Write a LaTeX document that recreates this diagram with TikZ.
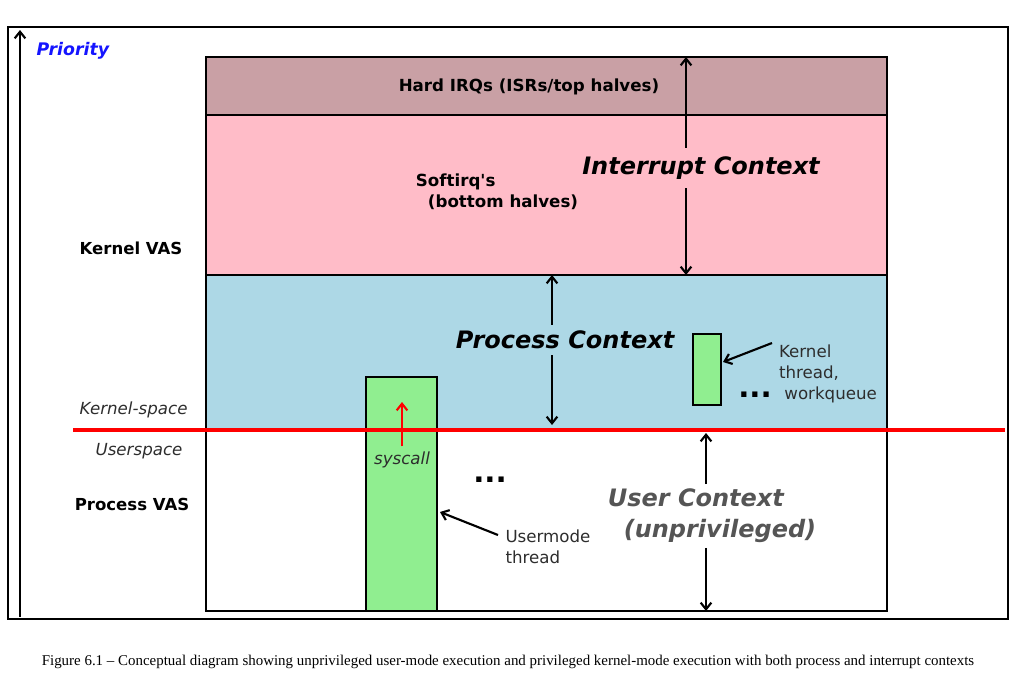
\documentclass[tikz,border=0pt]{standalone}
\usepackage{graphicx}
\usepackage{fontspec}
\setmainfont{DejaVu Sans}[Ligatures=TeXOff]
\newfontfamily\capfont{Liberation Serif}
\usepackage{xcolor}
\usetikzlibrary{math, arrows.meta}
\definecolor{hardirq}{RGB}{201,160,165}
\definecolor{softirq}{RGB}{255,188,200}
\definecolor{procblue}{RGB}{173,216,230}
\definecolor{threadgreen}{RGB}{144,238,144}
\definecolor{labelgray}{RGB}{45,45,45}
\definecolor{usergray}{RGB}{85,85,85}
\definecolor{prioblue}{RGB}{20,20,255}

\begin{document}
\begin{tikzpicture}[x=0.75pt, y=-0.75pt, line width=1.6pt,
  >={Straight Barb[length=5pt, width=8pt]},
  lbl/.style={font=\fontsize{12.5}{16}\selectfont, text=labelgray, align=left},
  sidelbl/.style={font=\bfseries\fontsize{12.4}{14}\selectfont},
  inlbl/.style={font=\bfseries\fontsize{12.5}{16}\selectfont, align=left},
  ctx/.style={font=\bfseries\itshape\fontsize{18}{23}\selectfont, inner sep=0pt},
  dots/.style={font=\bfseries\fontsize{22}{24}\selectfont, inner sep=0pt},
  thread/.style={draw=black, fill=threadgreen}]
\tikzmath{
\Lx=206; \Rx=887;
\Ytop=57; \Yhard=115; \Ysoft=275; \Yred=430; \Ybot=611;
}

\useasboundingbox (0,0) rectangle (1024,686);

\coordinate (FrameA) at (8,27);
\coordinate (FrameB) at (1008,619);
\draw (FrameA) rectangle (FrameB);

% priority axis
\coordinate (AxisB) at (20,617);
\coordinate (AxisT) at (20,30);
\draw[->] (AxisB) -- (AxisT);
\node[anchor=west, text=prioblue, font=\bfseries\itshape\fontsize{13}{15}\selectfont] (prio) at (31,51) {Priority};

% layers
\fill[hardirq] (\Lx,\Ytop) rectangle (\Rx,\Yhard);
\fill[softirq] (\Lx,\Yhard) rectangle (\Rx,\Ysoft);
\fill[procblue] (\Lx,\Ysoft) rectangle (\Rx,\Yred);
\draw (\Lx,\Yhard) -- (\Rx,\Yhard);
\draw (\Lx,\Ysoft) -- (\Rx,\Ysoft);
\draw (\Lx,\Ytop) rectangle (\Rx,\Ybot);

% threads
\coordinate (UtA) at (366,377);
\coordinate (UtB) at (437,\Ybot);
\draw[thread] (UtA) rectangle (UtB);
\coordinate (KtA) at (693,334);
\coordinate (KtB) at (721,405);
\draw[thread] (KtA) rectangle (KtB);

% side labels
\node[sidelbl] (kvas) at (131,248) {Kernel VAS};
\node[lbl, anchor=east, font=\itshape\fontsize{12.5}{16}\selectfont] (kspace) at (193,410) {Kernel-space};
\node[lbl, anchor=east, font=\itshape\fontsize{12.5}{16}\selectfont] (uspace) at (188,451) {Userspace};
\node[sidelbl] (pvas) at (132,504) {Process VAS};

% layer labels
\node[inlbl] (hard) at (529,87) {Hard IRQs (ISRs/top halves)};
\node[inlbl] (soft) at (497,192) {Softirq's\\\hspace*{9pt}(bottom halves)};

% contexts
\node[ctx] (ictx) at (701,168) {Interrupt Context};
\coordinate (IcTop) at (686,\Ytop);
\coordinate (IcBot) at (686,\Ysoft);
\draw[->] ([yshift=6pt]ictx.north -| IcTop) -- (IcTop);
\draw[->] ([yshift=-6pt]ictx.south -| IcBot) -- (IcBot);

\node[ctx] (pctx) at (565,340) {Process Context};
\coordinate (PcTop) at (552,\Ysoft);
\coordinate (PcBot) at (552,425);
\draw[->] ([yshift=4pt]pctx.north -| PcTop) -- (PcTop);
\draw[->] ([yshift=-4pt]pctx.south -| PcBot) -- (PcBot);

\node[ctx, text=usergray, align=left] (uctx) at (712,516) {User Context\\\hspace*{12pt}(unprivileged)};
\coordinate (UcTop) at (706,433);
\coordinate (UcBot) at (706,\Ybot);
\draw[->] ([yshift=3pt]uctx.north -| UcTop) -- (UcTop);
\draw[->] ([yshift=-3pt]uctx.south -| UcBot) -- (UcBot);

% thread labels
\node[lbl] (klbl) at (828,374) {Kernel\\thread,\\\hspace*{4pt}workqueue};
\coordinate (KtTail) at (772,343);
\coordinate (KtEdge) at (723,362);
\draw[->] (KtTail) -- (KtEdge);

\node[lbl] (ulbl) at (548,547) {Usermode\\thread};
\coordinate (UtTail) at (498,535);
\coordinate (UtEdge) at (440,512);
\draw[->] (UtTail) -- (UtEdge);

\node[dots] (udots) at (490,480) {...};
\node[dots] (kdots) at (755,395) {...};

% kernel/user boundary
\coordinate (RedL) at (73,\Yred);
\coordinate (RedR) at (1005,\Yred);
\draw[red, line width=3pt] (RedL) -- (RedR);

\node[lbl, font=\itshape\fontsize{12.5}{16}\selectfont] (sys) at (402,460) {syscall};
\coordinate (SysTip) at (402,402);
\draw[->, red] (sys.north) -- (SysTip);

% caption
\node[font=\capfont\fontsize{11.2}{13}\selectfont] (caption) at (508,662) {Figure 6.1 – Conceptual diagram showing unprivileged user-mode execution and privileged kernel-mode execution with both process and interrupt contexts};
\end{tikzpicture}
\end{document}
